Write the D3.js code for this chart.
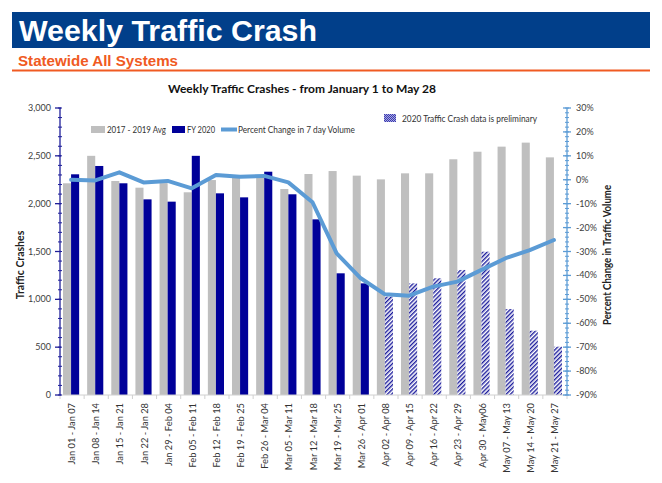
<!DOCTYPE html>
<html><head><meta charset="utf-8">
<script src="https://cdn.jsdelivr.net/npm/d3@7"></script>
<style>body{margin:0;background:#fff}svg{display:block}</style>
</head><body>
<svg id="c" width="662" height="483"></svg>
<script>
const weeks = ["Jan 01 - Jan 07","Jan 08 - Jan 14","Jan 15 - Jan 21","Jan 22 - Jan 28","Jan 29 - Feb 04","Feb 05 - Feb 11","Feb 12 - Feb 18","Feb 19 - Feb 25","Feb 26 - Mar 04","Mar 05 - Mar 11","Mar 12 - Mar 18","Mar 19 - Mar 25","Mar 26 - Apr 01","Apr 02 - Apr 08","Apr 09 - Apr 15","Apr 16 - Apr 22","Apr 23 - Apr 29","Apr 30 - May06","May 07 - May 13","May 14 - May 20","May 21 - May 27"];
const avg1719 = [2213,2500,2237,2167,2215,2119,2247,2295,2268,2153,2310,2341,2293,2254,2317,2317,2464,2543,2596,2638,2484];
const fy2020 = [2307,2394,2213,2045,2021,2500,2108,2066,2334,2098,1836,1272,1167,1028,1167,1220,1307,1498,899,672,505];
const preliminary = [0,0,0,0,0,0,0,0,0,0,0,0,0,1,1,1,1,1,1,1,1];
const pctChange = [0,-0.3,3.1,-1.1,-0.5,-3.6,2.0,1.3,1.6,-1.1,-9.4,-30.8,-41.2,-47.9,-48.5,-44.7,-42.6,-37.7,-32.8,-29.4,-25.2];
const leftTicks = [0,500,1000,1500,2000,2500,3000];
const rightTicks = [-90,-80,-70,-60,-50,-40,-30,-20,-10,0,10,20,30];

const svg = d3.select("#c");
const font = "Lato, 'Open Sans', sans-serif";
const defs = svg.append("defs");
const pat = defs.append("pattern").attr("id","hatch").attr("patternUnits","userSpaceOnUse")
  .attr("width",3).attr("height",3).attr("patternTransform","rotate(45)");
pat.append("rect").attr("width",3).attr("height",3).attr("fill","#fff");
pat.append("rect").attr("width",1.4).attr("height",3).attr("fill","#1c1c9c");
const pat2 = defs.append("pattern").attr("id","check").attr("patternUnits","userSpaceOnUse")
  .attr("width",2).attr("height",2);
pat2.append("rect").attr("width",2).attr("height",2).attr("fill","#a8a8e0");
pat2.append("rect").attr("width",1).attr("height",1).attr("fill","#3a3ab0");
pat2.append("rect").attr("x",1).attr("y",1).attr("width",1).attr("height",1).attr("fill","#3a3ab0");

// Header
svg.append("rect").attr("x",12).attr("y",12).attr("width",638).attr("height",36).attr("fill","#013F8A");
svg.append("text").attr("x",19).attr("y",41).attr("fill","#fff")
  .attr("font-family","'Liberation Sans', Arial, sans-serif").attr("font-weight","bold").attr("font-size",29)
  .attr("textLength",298).attr("lengthAdjust","spacingAndGlyphs").text("Weekly Traffic Crash");
svg.append("text").attr("x",18).attr("y",66).attr("fill","#F05A22")
  .attr("font-family","'Liberation Sans', Arial, sans-serif").attr("font-weight","bold").attr("font-size",15)
  .attr("textLength",160).attr("lengthAdjust","spacingAndGlyphs").text("Statewide All Systems");
svg.append("rect").attr("x",12).attr("y",69.5).attr("width",638).attr("height",2).attr("fill","#F05A22");

// chart title
svg.append("text").attr("x",168).attr("y",93)
  .attr("font-family",font).attr("font-weight","bold").attr("font-size",11.5).attr("fill","#111")
  .attr("textLength",268).attr("lengthAdjust","spacingAndGlyphs")
  .text("Weekly Traffic Crashes - from January 1 to May 28");

const x0 = 60, x1r = 567, yTop = 108, yBot = 395;
const x = d3.scaleBand().domain(weeks).range([x0,x1r]).paddingInner(0).paddingOuter(0);
const xs = d3.scaleBand().domain(["avg","fy"]).range([4, x.bandwidth()-4]);
const y = d3.scaleLinear().domain([0,3000]).range([yBot,yTop]);
const y2 = d3.scaleLinear().domain([-90,30]).range([yBot,yTop]);

// bars
const g = svg.append("g");
g.selectAll(".avg").data(weeks).enter().append("rect")
  .attr("x",(d)=>x(d)+xs("avg")-1).attr("width",xs.bandwidth())
  .attr("y",(d,i)=>y(avg1719[i])).attr("height",(d,i)=>yBot-y(avg1719[i])).attr("fill","#BFBFBF");
g.selectAll(".fy").data(weeks).enter().append("rect")
  .attr("x",(d)=>x(d)+xs("fy")-1).attr("width",xs.bandwidth())
  .attr("y",(d,i)=>y(fy2020[i])).attr("height",(d,i)=>yBot-y(fy2020[i]))
  .attr("fill",(d,i)=>preliminary[i]?"url(#hatch)":"#000099");

// x axis
const xa = svg.append("g").attr("transform",`translate(0,${yBot})`);
xa.append("line").attr("x1",x0).attr("x2",x1r).attr("stroke","#D0D0D0").attr("stroke-width",1);
xa.selectAll(".xt").data(d3.range(weeks.length+1)).enter().append("line")
  .attr("x1",i=>x0+i*x.bandwidth()).attr("x2",i=>x0+i*x.bandwidth()).attr("y1",0).attr("y2",4)
  .attr("stroke","#D0D0D0");
xa.selectAll(".xl").data(weeks).enter().append("text")
  .attr("transform",d=>`translate(${x(d)+x.bandwidth()/2+3},8) rotate(-90)`)
  .attr("text-anchor","end").attr("font-family",font).attr("font-size",9.3).attr("fill","#333").text(d=>d);

// line
const line = d3.line().x((d,i)=>x(weeks[i])+x.bandwidth()/2-1).y(d=>y2(d)).curve(d3.curveLinear);
svg.append("path").datum(pctChange).attr("d",line).attr("fill","none")
  .attr("stroke","#5B9BD5").attr("stroke-width",4).attr("stroke-linejoin","round").attr("stroke-linecap","round");

// left axis
const la = svg.append("g");
la.append("line").attr("x1",x0).attr("x2",x0).attr("y1",yTop).attr("y2",yBot).attr("stroke","#1F1F9A").attr("stroke-width",1.3);
la.selectAll(".mn").data(d3.range(0,3001,100)).enter().append("line")
  .attr("x1",x0-2).attr("x2",x0+2).attr("y1",d=>y(d)).attr("y2",d=>y(d)).attr("stroke","#1F1F9A");
la.selectAll(".mj").data(leftTicks).enter().append("line")
  .attr("x1",x0-5).attr("x2",x0+1).attr("y1",d=>y(d)).attr("y2",d=>y(d)).attr("stroke","#1F1F9A").attr("stroke-width",1.3);
la.selectAll(".lt").data(leftTicks).enter().append("text")
  .attr("x",x0-9).attr("y",d=>y(d)+3).attr("text-anchor","end").attr("font-family",font)
  .attr("font-size",9).attr("fill","#404040").text(d=>d3.format(",")(d));
svg.append("text").attr("transform","translate(24,265) rotate(-90)").attr("text-anchor","middle")
  .attr("font-family",font).attr("font-weight","bold").attr("font-size",10.5).attr("fill","#222").text("Traffic Crashes");

// right axis
const ra = svg.append("g");
ra.append("line").attr("x1",x1r).attr("x2",x1r).attr("y1",yTop).attr("y2",yBot).attr("stroke","#5B9BD5").attr("stroke-width",1.3);
ra.selectAll(".mn").data(d3.range(-90,31,2)).enter().append("line")
  .attr("x1",x1r-2).attr("x2",x1r+2).attr("y1",d=>y2(d)).attr("y2",d=>y2(d)).attr("stroke","#5B9BD5");
ra.selectAll(".mj").data(rightTicks).enter().append("line")
  .attr("x1",x1r-4).attr("x2",x1r+4).attr("y1",d=>y2(d)).attr("y2",d=>y2(d)).attr("stroke","#5B9BD5").attr("stroke-width",1.3);
ra.selectAll(".rt").data(rightTicks).enter().append("text")
  .attr("x",x1r+9).attr("y",d=>y2(d)+3).attr("text-anchor","start").attr("font-family",font)
  .attr("font-size",9).attr("fill","#404040").text(d=>d+"%");
svg.append("text").attr("transform","translate(611,255) rotate(-90)").attr("text-anchor","middle")
  .attr("font-family",font).attr("font-weight","bold").attr("font-size",10.5).attr("fill","#222")
  .attr("textLength",140).attr("lengthAdjust","spacingAndGlyphs").text("Percent Change in Traffic Volume");

// legend
const lg = svg.append("g").attr("font-family",font).attr("font-size",9.5).attr("fill","#333");
lg.append("rect").attr("x",91).attr("y",126).attr("width",14).attr("height",7).attr("fill","#BFBFBF");
lg.append("text").attr("x",107).attr("y",133).attr("textLength",59).attr("lengthAdjust","spacingAndGlyphs").text("2017 - 2019 Avg");
lg.append("rect").attr("x",172).attr("y",126).attr("width",13).attr("height",7).attr("fill","#000099");
lg.append("text").attr("x",187).attr("y",133).attr("textLength",28).attr("lengthAdjust","spacingAndGlyphs").text("FY 2020");
lg.append("line").attr("x1",221).attr("x2",237).attr("y1",129.5).attr("y2",129.5).attr("stroke","#5B9BD5").attr("stroke-width",4);
lg.append("text").attr("x",238).attr("y",133).attr("textLength",117).attr("lengthAdjust","spacingAndGlyphs").text("Percent Change in 7 day Volume");
lg.append("rect").attr("x",384).attr("y",114).attr("width",12).attr("height",8).attr("fill","url(#check)");
lg.append("text").attr("x",402).attr("y",121.5).attr("textLength",135).attr("lengthAdjust","spacingAndGlyphs").text("2020 Traffic Crash data is preliminary");
</script>
</body></html>
